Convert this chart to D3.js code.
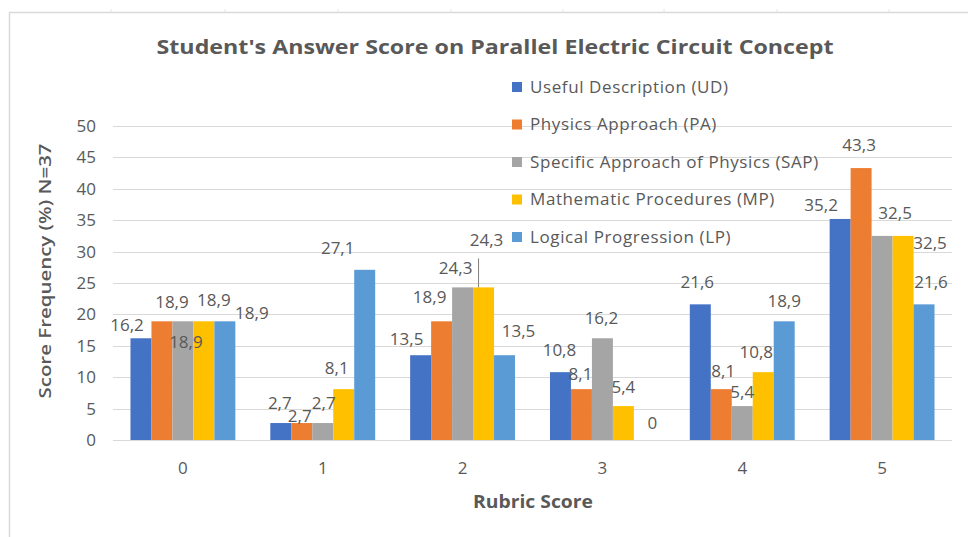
<!DOCTYPE html>
<html>
<head>
<meta charset="utf-8">
<script src="https://cdn.jsdelivr.net/npm/d3@7"></script>
<style>
    body { margin: 0; background: #fff; }
    text { font-family: "Open Sans", sans-serif; fill: #595959; }
</style>
</head>
<body>
<div id="chart"></div>
<script>
// rubric scores (x categories)
var categories = ["0", "1", "2", "3", "4", "5"];
var seriesNames = [
    "Useful Description (UD)",
    "Physics Approach (PA)",
    "Specific Approach of Physics (SAP)",
    "Mathematic Procedures (MP)",
    "Logical Progression (LP)"
];
var ud  = [16.2, 2.7, 13.5, 10.8, 21.6, 35.2];
var pa  = [18.9, 2.7, 18.9, 8.1, 8.1, 43.3];
var sap = [18.9, 2.7, 24.3, 16.2, 5.4, 32.5];
var mp  = [18.9, 8.1, 24.3, 5.4, 10.8, 32.5];
var lp  = [18.9, 27.1, 13.5, 0, 18.9, 21.6];
var yTicks = [0, 5, 10, 15, 20, 25, 30, 35, 40, 45, 50];

var colors = ["#4472C4", "#ED7D31", "#A5A5A5", "#FFC000", "#5B9BD5"];

// label nudges (dx, dy) from the default "above the bar" spot, per series per category
var labelNudge = [
    [[-14, -1], [-1, -8], [-14, -4], [-1, -10], [-3, -10], [-19, -2]],
    [[10, -7], [-2, 5], [-12, -12], [-1, -3], [2, -6], [-2, -11]],
    [[3, 33], [1, -8], [-7, -7], [-1, -8], [0, -2], [13, -11]],
    [[10, -9], [-7, -9], [3, -35], [0, -7], [-7, -8], [27, 19]],
    [[27, 4], [-27, -10], [14, -12], [8, -5], [0, -8], [7, -10]]
];

var svgWidth = 968;
var svgHeight = 537;
var margin = { top: 126, right: 16, bottom: 97, left: 113 };
var width = svgWidth - margin.left - margin.right;
var height = svgHeight - margin.top - margin.bottom;

var allSeries = [ud, pa, sap, mp, lp];

var svg = d3.select("#chart")
    .append("svg")
    .attr("width", svgWidth)
    .attr("height", svgHeight);

// outer frame
svg.append("path")
    .attr("d", "M9.5,537 V12.5 H968")
    .attr("fill", "none")
    .attr("stroke", "#d9d9d9")
    .attr("stroke-width", 1.5);

[111, 225, 338, 451, 563, 664, 777, 889].forEach(function(x) {
    svg.append("line")
        .attr("x1", x).attr("x2", x)
        .attr("y1", 9).attr("y2", 12)
        .attr("stroke", "#e4e4e4");
});

var chart = svg.append("g")
    .attr("transform", `translate(${margin.left}, ${margin.top})`);

var x0 = d3.scaleBand()
    .domain(categories)
    .range([0, width])
    .paddingInner(0.25)
    .paddingOuter(0.125);

var x1 = d3.scaleBand()
    .domain(d3.range(seriesNames.length))
    .range([0, x0.bandwidth()]);

var y = d3.scaleLinear()
    .domain([0, 50])
    .range([height, 0]);

// gridlines
chart.append("g")
    .selectAll("line")
    .data(yTicks)
    .enter()
    .append("line")
    .attr("x1", 0)
    .attr("x2", width)
    .attr("y1", d => Math.round(y(d)) + 0.5)
    .attr("y2", d => Math.round(y(d)) + 0.5)
    .attr("stroke", "#d9d9d9")
    .attr("stroke-width", 1.2);

// y axis labels
var leftAxis = d3.axisLeft(y).tickValues(yTicks).tickSize(0).tickPadding(17);
var yAxisG = chart.append("g").call(leftAxis);
yAxisG.select(".domain").remove();
yAxisG.selectAll("text")
    .style("font-size", "17px")
    .style("font-family", "Open Sans, sans-serif")
    .attr("fill", "#595959");

// x axis labels
var bottomAxis = d3.axisBottom(x0).tickSize(0).tickPadding(22);
var xAxisG = chart.append("g")
    .attr("transform", `translate(0, ${height})`)
    .call(bottomAxis);
xAxisG.select(".domain").remove();
xAxisG.selectAll("text")
    .style("font-size", "17px")
    .style("font-family", "Open Sans, sans-serif")
    .attr("fill", "#595959");

// bars
var groups = chart.selectAll(".series")
    .data(allSeries)
    .enter()
    .append("g")
    .attr("class", "series")
    .attr("fill", (d, i) => colors[i]);

groups.selectAll("rect")
    .data((d, i) => d.map((v, j) => ({ s: i, c: j, v: v })))
    .enter()
    .append("rect")
    .attr("x", d => x0(categories[d.c]) + x1(d.s))
    .attr("y", d => y(d.v))
    .attr("width", x1.bandwidth())
    .attr("height", d => height - y(d.v));

// leader line for MP at score 2
chart.append("line")
    .attr("x1", x0("2") + x1(3) + x1.bandwidth() / 2 - 5)
    .attr("x2", x0("2") + x1(3) + x1.bandwidth() / 2 - 5)
    .attr("y1", y(sap[2]) - 29)
    .attr("y2", y(mp[2]))
    .attr("stroke", "#7f7f7f")
    .attr("stroke-width", 1);

// data labels, on top of all bars
var fmt = v => String(v).replace(".", ",");
var labelData = [];
allSeries.forEach(function(arr, i) {
    arr.forEach(function(v, j) {
        labelData.push({ s: i, c: j, v: v });
    });
});

chart.append("g")
    .selectAll("text")
    .data(labelData)
    .enter()
    .append("text")
    .attr("x", d => x0(categories[d.c]) + x1(d.s) + x1.bandwidth() / 2 + labelNudge[d.s][d.c][0])
    .attr("y", d => y(d.v) - 12 + labelNudge[d.s][d.c][1])
    .attr("dy", "0.35em")
    .attr("text-anchor", "middle")
    .style("font-size", "17px")
    .text(d => fmt(d.v));

// title
svg.append("text")
    .attr("x", 495)
    .attr("y", 47)
    .attr("dy", "0.35em")
    .attr("text-anchor", "middle")
    .style("font-size", "19px")
    .style("font-weight", "bold")
    .attr("textLength", 677)
    .attr("lengthAdjust", "spacingAndGlyphs")
    .text("Student's Answer Score on Parallel Electric Circuit Concept");

// axis titles
svg.append("text")
    .attr("transform", "translate(45, 271) rotate(-90)")
    .attr("dy", "0.35em")
    .attr("text-anchor", "middle")
    .style("font-size", "17px")
    .style("font-weight", "600")
    .attr("textLength", 255)
    .attr("lengthAdjust", "spacingAndGlyphs")
    .text("Score Frequency (%)  N=37");

svg.append("text")
    .attr("x", 533)
    .attr("y", 502)
    .attr("dy", "0.35em")
    .attr("text-anchor", "middle")
    .style("font-size", "17px")
    .style("font-weight", "bold")
    .attr("textLength", 120)
    .attr("lengthAdjust", "spacingAndGlyphs")
    .text("Rubric Score");

// legend
var legend = svg.append("g")
    .attr("transform", "translate(512, 87)");

var items = legend.selectAll(".item")
    .data(seriesNames)
    .enter()
    .append("g")
    .attr("class", "item")
    .attr("transform", (d, i) => `translate(0, ${i * 37.5})`);

items.append("rect")
    .attr("x", 0)
    .attr("y", -5)
    .attr("width", 10)
    .attr("height", 10)
    .attr("fill", (d, i) => colors[i]);

items.append("text")
    .attr("x", 18)
    .attr("y", 0)
    .attr("dy", "0.35em")
    .style("font-size", "17px")
    .style("letter-spacing", "0.6px")
    .text(d => d);
</script>
</body>
</html>
